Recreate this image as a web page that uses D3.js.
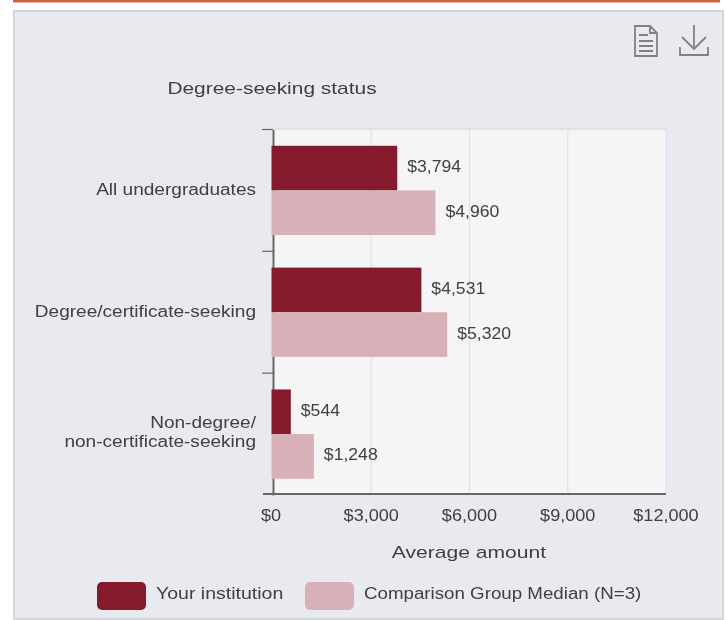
<!DOCTYPE html>
<html><head><meta charset="utf-8">
<script src="https://cdn.jsdelivr.net/npm/d3@7/dist/d3.min.js"></script>
<style>
html,body{margin:0;padding:0;background:#fff}
svg{display:block;filter:blur(0.45px)}
text{font-family:"Liberation Sans",Arial,sans-serif;fill:#404040}
</style></head><body>
<script>
const categories = ["All undergraduates","Degree/certificate-seeking","Non-degree/\nnon-certificate-seeking"];
const yourInstitution = [3794,4531,544];
const comparisonMedian = [4960,5320,1248];
const seriesNames = ["Your institution","Comparison Group Median (N=3)"];
const seriesColors = ["#841a2b","#d8b1b8"];
const xTicks = [0,3000,6000,9000,12000];
const chartTitle = "Degree-seeking status";
const xTitle = "Average amount";

const svg = d3.select("body").append("svg").attr("width",726).attr("height",620);
svg.append("rect").attr("x",13).attr("y",0).attr("width",707).attr("height",2.5).attr("fill","#d2623f");
svg.append("rect").attr("x",14).attr("y",11).attr("width",709).attr("height",608).attr("fill","#e9eaef").attr("stroke","#d4d5d8").attr("stroke-width",2);

const x = d3.scaleLinear().domain([0,12000]).range([273,666]);
const y = d3.scaleBand().domain(categories).range([129.5,495]);
const sub = d3.scaleBand().domain([0,1]).range([0,y.bandwidth()]).paddingOuter(0.365);

// widen glyphs horizontally to match the reference's hinted text
function stretch(sel,k){
  sel.each(function(){
    const len=this.getComputedTextLength();
    this.setAttribute("textLength",len*k);
    this.setAttribute("lengthAdjust","spacingAndGlyphs");
  });
  return sel;
}

svg.append("rect").attr("x",x(0)).attr("y",129).attr("width",x(12000)-x(0)).attr("height",365).attr("fill","#f5f5f6");
svg.append("line").attr("x1",x(0)).attr("x2",x(12000)).attr("y1",129).attr("y2",129).attr("stroke","#dfe0e5").attr("stroke-width",2);
svg.selectAll(".grid").data(xTicks.slice(1)).join("line").attr("class","grid")
  .attr("x1",d=>x(d)).attr("x2",d=>x(d)).attr("y1",129).attr("y2",494)
  .attr("stroke","#dfe2ee").attr("stroke-width",1.2);

const yAxis = svg.append("g").attr("transform",`translate(${x(0)},0)`)
  .call(d3.axisLeft(y).tickValues([]).tickSize(0));
yAxis.select(".domain").attr("stroke","#66666e").attr("stroke-width",2);
svg.selectAll(".ytick").data(d3.range(categories.length)).join("line").attr("class","ytick")
  .attr("x1",x(0)-11).attr("x2",x(0)).attr("y1",i=>129.5+i*y.step()).attr("y2",i=>129.5+i*y.step())
  .attr("stroke","#66666e").attr("stroke-width",1.2);
svg.append("line").attr("x1",x(0)-10).attr("x2",x(12000)).attr("y1",494).attr("y2",494).attr("stroke","#66666e").attr("stroke-width",2);

const series = [yourInstitution, comparisonMedian];
const fmt = d=>"$"+d3.format(",")(d);
series.forEach((vals,s)=>{
  const g = svg.append("g");
  g.selectAll("rect").data(vals).join("rect")
    .attr("x",x(0)-1.5).attr("y",(d,i)=>y(categories[i])+sub(s))
    .attr("width",d=>x(d)-x(0)+1.5).attr("height",sub.bandwidth()).attr("fill",seriesColors[s]);
  stretch(g.selectAll("text").data(vals).join("text")
    .attr("x",d=>x(d)+10).attr("y",(d,i)=>y(categories[i])+sub(s)+sub.bandwidth()/2+4)
    .attr("font-size",16).text(fmt),1.1);
});

categories.forEach(c=>{
  const lines=c.split("\n");
  const cy=y(c)+y.bandwidth()/2;
  lines.forEach((l,i)=>{
    stretch(svg.append("text").attr("text-anchor","end").attr("font-size",16)
      .attr("x",256).attr("y",cy+(lines.length>1?(i===0?-6:13):5)).text(l),1.19);
  });
});

stretch(svg.selectAll(".xl").data(xTicks).join("text").attr("class","xl")
  .attr("x",(d,i)=>x(d)+(i===0?-2:0)).attr("y",521).attr("text-anchor","middle").attr("font-size",16).text(fmt),1.13);

stretch(svg.append("text").attr("x",272).attr("y",94).attr("text-anchor","middle").attr("font-size",17).text(chartTitle),1.23);
stretch(svg.append("text").attr("x",469).attr("y",558).attr("text-anchor","middle").attr("font-size",17).text(xTitle),1.24);

const legendX=[97,305], legendTextX=[156,364];
const legendStretch=[1.22,1.17];
seriesNames.forEach((n,i)=>{
  svg.append("rect").attr("x",legendX[i]).attr("y",582).attr("width",49).attr("height",28).attr("rx",5).attr("fill",seriesColors[i]);
  stretch(svg.append("text").attr("x",legendTextX[i]).attr("y",599).attr("font-size",16).text(n),legendStretch[i]);
});

// toolbar icons
const ic=svg.append("g").attr("fill","none").attr("stroke","#808085").attr("stroke-width",1.8);
ic.append("path").attr("d","M635 26H650L657 33V56H635Z M650 26V33H657");
ic.append("path").attr("d","M639 35H648M639 41H653M639 46H653M639 51H653");
ic.append("path").attr("d","M694 25V49M682 37L694 49L706 37M680 47V55H708V47");
</script>
</body></html>
